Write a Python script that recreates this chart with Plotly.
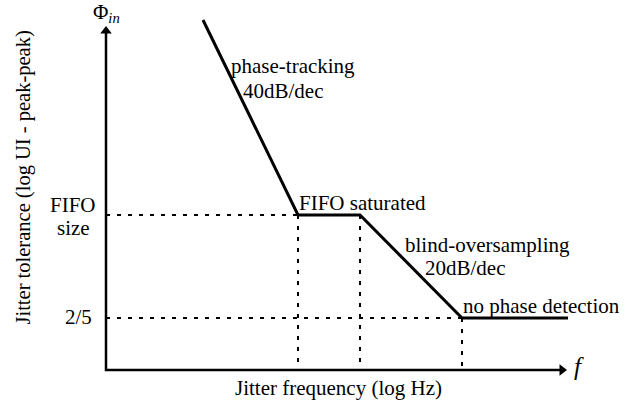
import plotly.graph_objects as go

# Schematic jitter-tolerance curve (log-log, arbitrary decade units)
freq_log = [0.97, 1.92, 2.54, 3.56, 4.62]        # log10 f (decades from origin)
tol_log = [3.50, 1.55, 1.55, 0.52, 0.52]         # log10 tolerance (decades from origin)

fifo_level = 1.55      # "FIFO size"
min_level = 0.52       # "2/5"
knee_freqs = [1.92, 2.54, 3.56]

x_axis_tip = 4.61
y_axis_tip = 3.44

FONT = "Liberation Serif"
BLACK = "#000000"

fig = go.Figure()

# guide lines (dotted)
guide_x = [0, knee_freqs[0], None, 0, knee_freqs[2], None,
           knee_freqs[0], knee_freqs[0], None, knee_freqs[1], knee_freqs[1], None,
           knee_freqs[2], knee_freqs[2]]
guide_y = [fifo_level, fifo_level, None, min_level, min_level, None,
           fifo_level, 0, None, fifo_level, 0, None,
           min_level, 0]
fig.add_trace(go.Scatter(x=guide_x, y=guide_y, mode="lines",
                         line=dict(color=BLACK, width=2, dash="4px,7px"),
                         hoverinfo="skip", showlegend=False))

# main curve
fig.add_trace(go.Scatter(x=freq_log, y=tol_log, mode="lines",
                         line=dict(color=BLACK, width=3),
                         hoverinfo="skip", showlegend=False))

# axes
fig.add_trace(go.Scatter(x=[0, 0, x_axis_tip - 0.05], y=[y_axis_tip - 0.05, 0, 0], mode="lines",
                         line=dict(color=BLACK, width=2.5),
                         hoverinfo="skip", showlegend=False))
head_r = 0.05  # marker half-size in data units (5 px)
fig.add_trace(go.Scatter(x=[0], y=[y_axis_tip - head_r], mode="markers",
                         marker=dict(symbol="triangle-up", size=10, color=BLACK,
                                     line=dict(width=0)),
                         hoverinfo="skip", showlegend=False))
fig.add_trace(go.Scatter(x=[x_axis_tip - head_r], y=[0], mode="markers",
                         marker=dict(symbol="triangle-right", size=10, color=BLACK,
                                     line=dict(width=0)),
                         hoverinfo="skip", showlegend=False))

ann = []

def txt(x, y, s, xanchor="left", size=21, **kw):
    ann.append(dict(x=x, y=y, xref="x", yref="y", text=s, showarrow=False,
                    xanchor=xanchor, yanchor="middle",
                    font=dict(family=FONT, size=size, color=BLACK), **kw))

txt(1.23, 3.04, "phase-tracking")
txt(1.35, 2.79, "40dB/dec")
txt(1.91, 1.67, "FIFO saturated")
txt(2.965, 1.25, "blind-oversampling")
txt(3.165, 1.02, "20dB/dec")
txt(3.55, 0.64, "no phase detection")
txt(-0.335, 1.65, "FIFO", xanchor="center")
txt(-0.325, 1.42, "size", xanchor="center")
txt(-0.275, 0.53, "2/5", xanchor="center")
txt(4.73, 0.035, "<i>f</i>", xanchor="center", size=25)
txt(0.0, 3.575, "Φ<sub><i>in</i></sub>", xanchor="center", size=21)
txt(2.32, -0.18, "Jitter frequency (log Hz)", xanchor="center")
txt(-0.83, 1.925, "Jitter tolerance (log UI - peak-peak)", xanchor="center", size=20.5,
    textangle=-90)

fig.update_layout(
    width=644, height=402,
    margin=dict(l=0, r=0, t=0, b=0),
    paper_bgcolor="white", plot_bgcolor="white",
    font=dict(family=FONT, color=BLACK),
    xaxis=dict(range=[-1.06, 5.38], visible=False, fixedrange=True),
    yaxis=dict(range=[-0.32, 3.70], visible=False, fixedrange=True),
    annotations=ann,
    showlegend=False,
)

# remove the default page margin so the 644x402 figure fills the window exactly
fig.write_html("out.html", config={"displayModeBar": False},
               post_script="document.body.style.margin='0';")
